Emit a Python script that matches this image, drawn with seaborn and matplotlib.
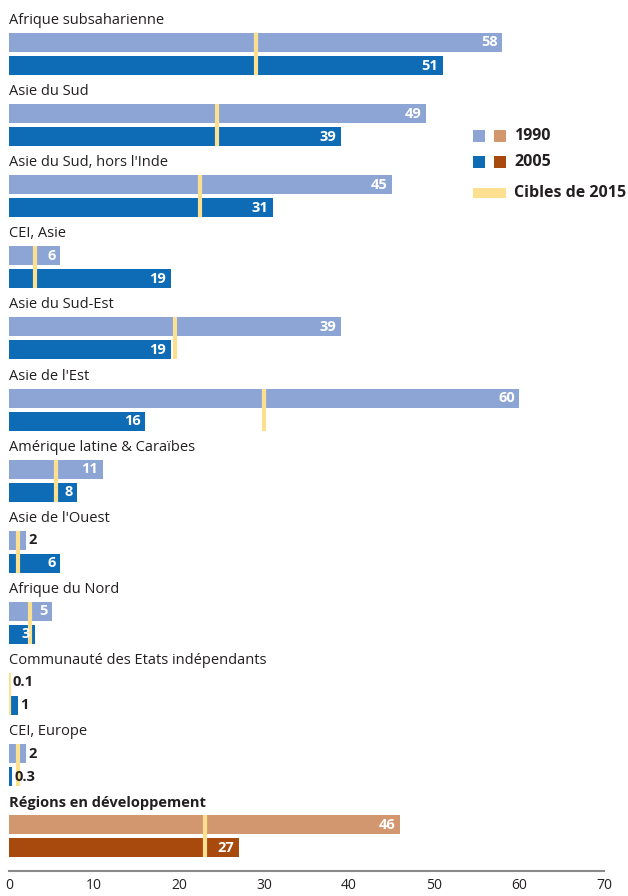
import matplotlib
matplotlib.use("Agg")
import matplotlib.pyplot as plt
import seaborn as sns
import numpy as np
from matplotlib.patches import Rectangle

regions = ["Afrique subsaharienne", "Asie du Sud", "Asie du Sud, hors l'Inde", "CEI, Asie",
           "Asie du Sud-Est", "Asie de l'Est", "Amérique latine & Caraïbes", "Asie de l'Ouest",
           "Afrique du Nord", "Communauté des Etats indépendants", "CEI, Europe",
           "Régions en développement"]
v1990 = [58, 49, 45, 6, 39, 60, 11, 2, 5, 0.1, 2, 46]
v2005 = [51, 39, 31, 19, 19, 16, 8, 6, 3, 1, 0.3, 27]
cibles_2015 = [29, 24.5, 22.5, 3, 19.5, 30, 5.5, 1, 2.5, 0.05, 1, 23]
labels_1990 = ["58", "49", "45", "6", "39", "60", "11", "2", "5", "0.1", "2", "46"]
labels_2005 = ["51", "39", "31", "19", "19", "16", "8", "6", "3", "1", "0.3", "27"]
xticks = [0, 10, 20, 30, 40, 50, 60, 70]

sns.set_theme(style="white")
plt.rcParams['font.family'] = ['Open Sans', 'DejaVu Sans']

C1990 = "#8DA5D4"
C2005 = "#0D6CB5"
C1990_T = "#D39770"
C2005_T = "#A84A0E"
CTGT = "#FDE08F"
TXT = "#231F20"

W, H = 628, 896
fig = plt.figure(figsize=(W / 100, H / 100), dpi=100)
ax = fig.add_axes([9 / W, (H - 871) / H, 595 / W, 871 / H])

pitch = 71.1
bh = 19
n = len(regions)
for i in range(n):
    y1 = 42.5 + pitch * i
    y2 = 65.5 + pitch * i
    total = (i == n - 1)
    c1 = C1990_T if total else C1990
    c2 = C2005_T if total else C2005
    ax.barh(y1, v1990[i], height=bh, color=c1, edgecolor="none", zorder=2)
    ax.barh(y2, v2005[i], height=bh, color=c2, edgecolor="none", zorder=2)
    # target line
    ax.plot([cibles_2015[i], cibles_2015[i]], [y1 - bh / 2, y2 + bh / 2],
            color=CTGT, lw=3, solid_capstyle="butt", zorder=3)
    ax.text(0, 20.5 + pitch * i, regions[i], ha="left", va="center", fontsize=10.5,
            color=TXT, fontweight="bold" if total else "normal", zorder=4)
    for v, lab, y in ((v1990[i], labels_1990[i], y1), (v2005[i], labels_2005[i], y2)):
        if v >= 3:
            ax.annotate(lab, (v, y), xytext=(-3, 0), textcoords="offset points",
                        ha="right", va="center", fontsize=10.5, fontweight="bold",
                        color="white", zorder=5)
        else:
            ax.annotate(lab, (v, y), xytext=(2, 0), textcoords="offset points",
                        ha="left", va="center", fontsize=10.5, fontweight="bold",
                        color=TXT, zorder=5)

ax.set_xlim(0, 70)
ax.set_ylim(871, 0)
ax.set_xticks(xticks)
ax.set_xticklabels([str(t) for t in xticks], fontsize=10, color=TXT)
ax.set_yticks([])
ax.tick_params(axis="x", length=0, pad=5)
for s in ["top", "right", "left"]:
    ax.spines[s].set_visible(False)
ax.spines["bottom"].set_color("#8A8A8A")
ax.spines["bottom"].set_linewidth(1.5)
ax.patch.set_alpha(0)

# legend
def frect(x, y, w, h, c):
    fig.add_artist(Rectangle((x / W, 1 - (y + h) / H), w / W, h / H,
                             transform=fig.transFigure, color=c, lw=0))

frect(473, 130, 12, 12, C1990)
frect(494, 130, 12, 12, C1990_T)
frect(473, 156, 12, 12, C2005)
frect(494, 156, 12, 12, C2005_T)
frect(473, 188, 33, 10, CTGT)
for txt, y in (("1990", 136), ("2005", 162), ("Cibles de 2015", 193)):
    fig.text(514 / W, 1 - y / H, txt, ha="left", va="center", fontsize=11.5,
             fontweight="bold", color=TXT)

fig.savefig("out.png", dpi=100)
